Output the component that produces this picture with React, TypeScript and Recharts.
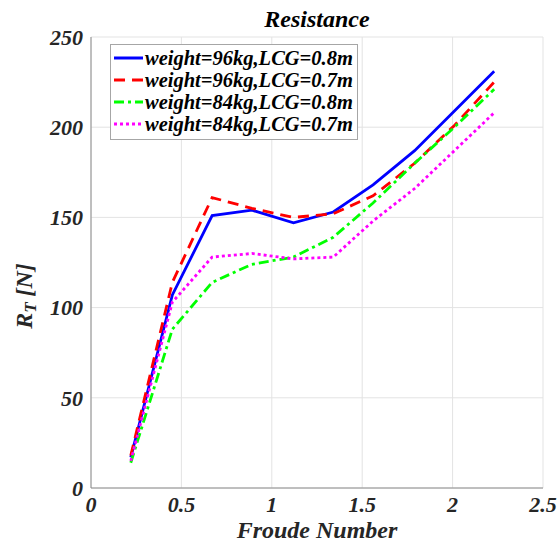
import React from 'react';
import {
  LineChart,
  Line,
  XAxis,
  YAxis,
  CartesianGrid,
} from 'recharts';

const froude = [0.22, 0.45, 0.67, 0.89, 1.12, 1.34, 1.56, 1.79, 2.01, 2.23];
const w96lcg08 = [17, 107, 151, 154, 147, 153, 168, 187, 209, 231];
const w96lcg07 = [18, 114, 161, 155, 150, 152, 162, 180, 201, 225];
const w84lcg08 = [14, 88, 114, 124, 128, 139, 158, 180, 200, 221];
const w84lcg07 = [15, 103, 128, 130, 127, 128, 148, 166, 187, 208];
const xTicks = [0, 0.5, 1, 1.5, 2, 2.5];
const yTicks = [0, 50, 100, 150, 200, 250];

const series = [
  { key: 'a', name: 'weight=96kg,LCG=0.8m', color: '#0000ff', dash: undefined, values: w96lcg08 },
  { key: 'b', name: 'weight=96kg,LCG=0.7m', color: '#ff0000', dash: '11 7', values: w96lcg07 },
  { key: 'c', name: 'weight=84kg,LCG=0.8m', color: '#00ff00', dash: '10 4 3 4', values: w84lcg08 },
  { key: 'd', name: 'weight=84kg,LCG=0.7m', color: '#ff00ff', dash: '3 3', values: w84lcg07 },
];

const data = froude.map((fr, i) => {
  const row: Record<string, number> = { fr };
  series.forEach((s) => {
    row[s.key] = s.values[i];
  });
  return row;
});

const FONT = '"Liberation Serif", "Times New Roman", serif';
const INK = '#262626';
const tickStyle = {
  fill: INK,
  fontSize: 22,
  fontWeight: 'bold',
  fontStyle: 'italic',
  fontFamily: FONT,
};

function LegendBox() {
  return (
    <div
      style={{
        position: 'absolute',
        left: 110,
        top: 44,
        width: 246,
        height: 92,
        border: '1px solid #a6a6a6',
        background: '#fff',
        paddingTop: 2,
        fontFamily: FONT,
        fontWeight: 'bold',
        fontStyle: 'italic',
        fontSize: 20.5,
        color: '#000',
        zIndex: 2,
        boxSizing: 'content-box',
      }}
    >
      {series.map((s) => (
        <div key={s.key} style={{ display: 'flex', alignItems: 'center', height: 22, whiteSpace: 'nowrap' }}>
          <svg width={32} height={10} style={{ marginLeft: 2, flex: 'none' }}>
            <line
              x1={1}
              y1={5}
              x2={30}
              y2={5}
              stroke={s.color}
              strokeWidth={3}
              strokeDasharray={s.dash}
            />
          </svg>
          <span>{s.name}</span>
        </div>
      ))}
    </div>
  );
}

function YLabel() {
  return (
    <text
      x={24}
      y={296}
      transform="rotate(-90, 24, 296)"
      textAnchor="middle"
      dominantBaseline="central"
      fill={INK}
      fontFamily={FONT}
      fontWeight="bold"
      fontStyle="italic"
      fontSize={24}
    >
      R
      <tspan fontSize={17} dy={6}>
        T
      </tspan>
      <tspan dy={-6}> [N]</tspan>
    </text>
  );
}

export default function App() {
  return (
    <div style={{ position: 'fixed', left: 0, top: 0, width: 557, height: 543, background: '#fff' }}>
      <div
        style={{
          position: 'absolute',
          left: 91,
          width: 452,
          top: 6,
          textAlign: 'center',
          fontFamily: FONT,
          fontWeight: 'bold',
          fontStyle: 'italic',
          fontSize: 24,
          color: '#000',
          zIndex: 2,
        }}
      >
        Resistance
      </div>
      <LegendBox />
      <LineChart
        width={557}
        height={543}
        data={data}
        margin={{ top: 37, right: 14, bottom: 0, left: 0 }}
      >
        <CartesianGrid stroke="#e3e3e3" />
        <XAxis
          dataKey="fr"
          type="number"
          domain={[0, 2.5]}
          ticks={xTicks}
          height={55}
          stroke="#8c8c8c"
          tickLine={false}
          tick={tickStyle}
          label={{
            value: 'Froude Number',
            position: 'insideBottom',
            offset: 5,
            fill: INK,
            fontSize: 24,
            fontWeight: 'bold',
            fontStyle: 'italic',
            fontFamily: FONT,
          }}
        />
        <XAxis
          xAxisId="top"
          dataKey="fr"
          type="number"
          domain={[0, 2.5]}
          ticks={xTicks}
          orientation="top"
          height={0}
          stroke="#8c8c8c"
          tick={false}
          tickLine={false}
        />
        <YAxis
          type="number"
          domain={[0, 250]}
          ticks={yTicks}
          width={91}
          stroke="#8c8c8c"
          tickLine={false}
          tick={tickStyle}
          label={<YLabel />}
        />
        <YAxis
          yAxisId="right"
          orientation="right"
          type="number"
          domain={[0, 250]}
          ticks={yTicks}
          width={0}
          stroke="#8c8c8c"
          tick={false}
          tickLine={false}
        />
        {series.map((s) => (
          <Line
            key={s.key}
            dataKey={s.key}
            name={s.name}
            stroke={s.color}
            strokeWidth={2.8}
            strokeDasharray={s.dash}
            dot={false}
            activeDot={false}
            isAnimationActive={false}
          />
        ))}
      </LineChart>
    </div>
  );
}
